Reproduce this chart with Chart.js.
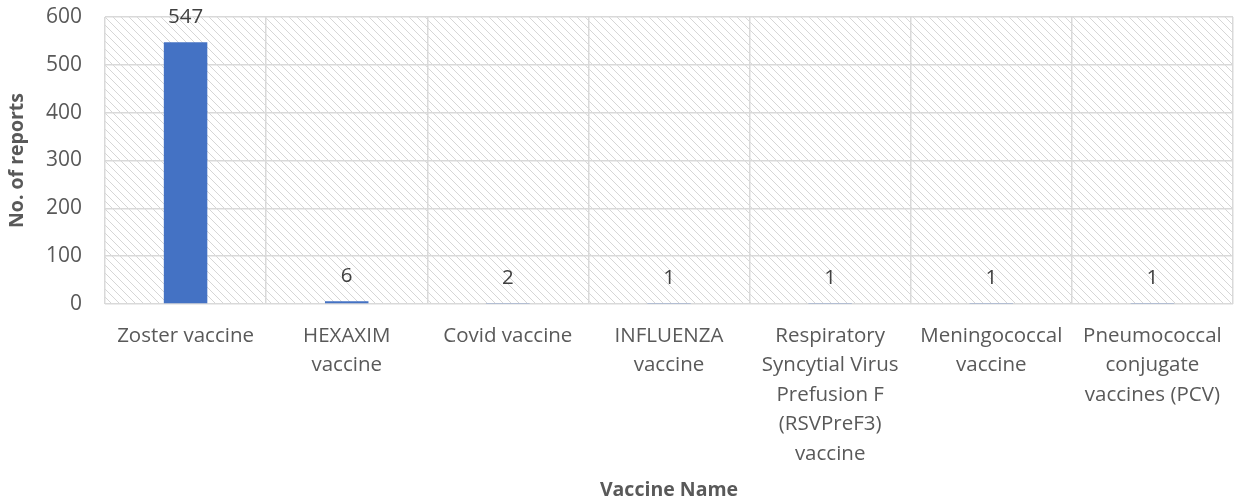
<!DOCTYPE html>
<html>
<head>
<meta charset="utf-8">
<script src="https://cdn.jsdelivr.net/npm/chart.js@4"></script>
<style>
  html, body { margin: 0; padding: 0; background: #fff; }
  #wrap { width: 1235px; height: 504px; }
</style>
</head>
<body>
<div id="wrap"><canvas id="c" width="1235" height="504"></canvas></div>
<script>
const categories = [
  'Zoster vaccine',
  ['HEXAXIM', 'vaccine'],
  'Covid vaccine',
  ['INFLUENZA', 'vaccine'],
  ['Respiratory', 'Syncytial Virus', 'Prefusion F', '(RSVPreF3)', 'vaccine'],
  ['Meningococcal', 'vaccine'],
  ['Pneumococcal', 'conjugate', 'vaccines (PCV)']
];
const reports = [547, 6, 2, 1, 1, 1, 1];
const yTicks = [0, 100, 200, 300, 400, 500, 600];

const FONT = 'Open Sans';
const textColor = '#595959';

// dotted diagonal hatch like the Excel plot area fill
function hatch() {
  const p = document.createElement('canvas');
  p.width = 8; p.height = 8;
  const g = p.getContext('2d');
  g.fillStyle = '#d6d6d6';
  for (let i = 0; i < 8; i++) g.fillRect(i, i, 1, 1);
  return document.getElementById('c').getContext('2d').createPattern(p, 'repeat');
}

const plotFill = {
  id: 'plotFill',
  beforeDraw(chart) {
    const { ctx, chartArea: a } = chart;
    ctx.save();
    ctx.fillStyle = hatch();
    ctx.fillRect(a.left, a.top, a.right - a.left, a.bottom - a.top);
    ctx.restore();
  }
};

const valueLabels = {
  id: 'valueLabels',
  afterDatasetsDraw(chart) {
    const ctx = chart.ctx;
    const meta = chart.getDatasetMeta(0);
    ctx.save();
    ctx.font = '20.5px ' + FONT;
    ctx.fillStyle = '#404040';
    ctx.textAlign = 'center';
    ctx.textBaseline = 'middle';
    meta.data.forEach((bar, i) => {
      ctx.fillText(reports[i], bar.x, bar.y - 25);
    });
    ctx.restore();
  }
};

new Chart(document.getElementById('c'), {
  type: 'bar',
  data: {
    labels: categories,
    datasets: [{
      data: reports,
      backgroundColor: '#4472c4',
      categoryPercentage: 1,
      barPercentage: 0.27
    }]
  },
  options: {
    responsive: false,
    animation: false,
    layout: { padding: { top: 17, right: 2, left: 1, bottom: 2 } },
    plugins: { legend: { display: false }, tooltip: { enabled: false } },
    scales: {
      x: {
        afterFit(axis) { axis.height = 198; axis.paddingLeft = 0; axis.paddingRight = 0; },
        grid: { color: '#d9d9d9', lineWidth: 1.5, drawTicks: false },
        border: { display: false },
        ticks: {
          color: textColor, font: { family: FONT, size: 20.5, lineHeight: 1.44 },
          maxRotation: 0, autoSkip: false, padding: 17
        },
        title: {
          display: true, text: 'Vaccine Name', color: textColor,
          font: { family: FONT, size: 19.5, weight: 'bold' }, padding: { top: 10, bottom: 0 }
        }
      },
      y: {
        min: 0, max: 600,
        afterBuildTicks(axis) { axis.ticks = yTicks.map(v => ({ value: v })); },
        afterFit(axis) { axis.width = 104; axis.paddingTop = 0; axis.paddingBottom = 0; },
        grid: { color: '#d9d9d9', lineWidth: 1.5, drawTicks: false },
        border: { display: false },
        ticks: { color: textColor, font: { family: FONT, size: 21 }, padding: 23 },
        title: {
          display: true, text: 'No. of reports', color: textColor,
          font: { family: FONT, size: 19.5, weight: 'bold' }, padding: { top: 5, bottom: 0 }
        }
      }
    }
  },
  plugins: [plotFill, valueLabels]
});
</script>
</body>
</html>
